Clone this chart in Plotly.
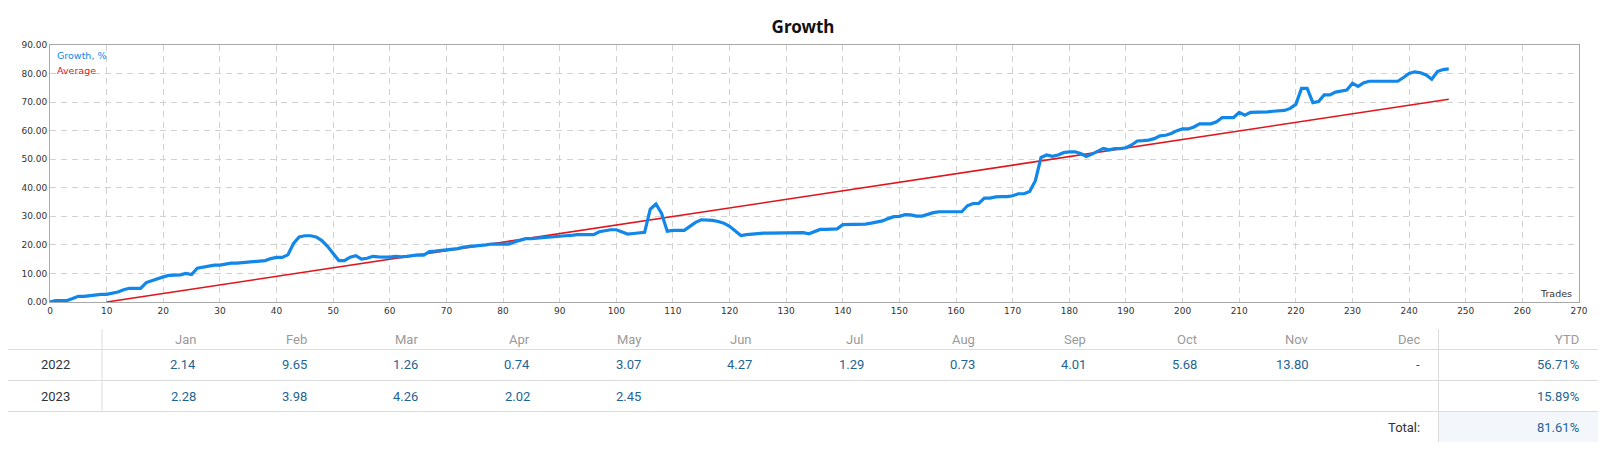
import plotly.graph_objects as go

# --- data ---
growth = [
    0.0, 0.5, 0.5, 0.5, 1.2, 2.0, 2.0, 2.3, 2.4, 2.7,
    2.7, 3.0, 3.5, 4.3, 4.8, 4.8, 4.8, 6.8, 7.5, 8.3,
    8.8, 9.3, 9.3, 9.5, 10.0, 9.6, 11.8, 12.2, 12.5, 12.9,
    12.9, 13.2, 13.6, 13.6, 13.8, 14.0, 14.2, 14.2, 14.5, 15.2,
    15.6, 15.6, 16.5, 20.5, 22.8, 23.2, 23.2, 22.8, 21.5, 19.5,
    17.2, 14.5, 14.5, 15.7, 16.2, 15.0, 15.3, 16.0, 15.8, 15.7,
    15.7, 16.0, 15.8, 16.0, 16.2, 16.5, 16.4, 17.7, 17.8, 18.0,
    18.3, 18.3, 18.7, 19.2, 19.4, 19.4, 19.7, 20.0, 20.3, 20.3,
    20.3, 20.3, 21.0, 21.6, 22.2, 22.2, 22.4, 22.6, 22.8, 22.9,
    23.0, 23.2, 23.3, 23.6, 23.6, 23.6, 23.6, 24.6, 25.0, 25.3,
    25.3, 24.5, 23.8, 24.0, 24.1, 24.4, 32.5, 34.3, 31.0, 24.8,
    25.1, 25.1, 25.1, 26.5, 27.9, 28.8, 28.8, 28.6, 28.2, 27.6,
    26.5, 24.9, 23.3, 23.6, 23.8, 23.8, 24.1, 24.1, 24.1, 24.1,
    24.1, 24.1, 24.1, 24.3, 23.9, 24.6, 25.4, 25.4, 25.6, 25.6,
    27.1, 27.1, 27.3, 27.3, 27.3, 27.6, 27.9, 28.4, 29.2, 29.9,
    30.0, 30.6, 30.5, 30.1, 30.1, 30.8, 31.3, 31.6, 31.6, 31.6,
    31.6, 31.6, 33.7, 34.5, 34.5, 36.4, 36.4, 36.8, 36.9, 36.9,
    37.2, 37.9, 37.9, 38.7, 42.5, 50.6, 51.5, 51.0, 51.5, 52.3,
    52.6, 52.6, 52.0, 51.0, 51.8, 52.8, 53.8, 53.3, 53.7, 53.7,
    54.0, 55.0, 56.4, 56.5, 56.7, 57.2, 58.2, 58.4, 59.0, 60.0,
    60.6, 60.6, 61.3, 62.4, 62.4, 62.4, 63.1, 64.6, 64.6, 64.6,
    66.4, 65.4, 66.4, 66.4, 66.4, 66.6, 66.8, 67.0, 67.1, 67.8,
    69.2, 74.8, 74.8, 69.8, 70.2, 72.5, 72.5, 73.5, 73.8, 74.2,
    76.6, 75.5, 76.8, 77.3, 77.3, 77.3, 77.3, 77.3, 77.3, 78.6,
    80.0, 80.6, 80.3, 79.5, 78.0, 80.7, 81.4, 81.61,
]
trades = list(range(len(growth)))

avg_x = [10, 247]
avg_y = [0.0, 71.0]

months = ["Jan", "Feb", "Mar", "Apr", "May", "Jun",
          "Jul", "Aug", "Sep", "Oct", "Nov", "Dec"]
years = ["2022", "2023"]
monthly = {
    "2022": ["2.14", "9.65", "1.26", "0.74", "3.07", "4.27",
             "1.29", "0.73", "4.01", "5.68", "13.80", "-"],
    "2023": ["2.28", "3.98", "4.26", "2.02", "2.45", "",
             "", "", "", "", "", ""],
}
ytd = {"2022": "56.71%", "2023": "15.89%"}
total = "81.61%"

# --- layout geometry ---
# the page body adds an 8px margin, so the figure is drawn 8px smaller and
# every page-pixel position below is shifted back by OFF
OFF = 8
W, H = 1608 - OFF, 462 - OFF
ML, MR, MT, MB = 50 - OFF, 29, 45 - OFF, 160
PW = W - ML - MR
PH = H - MT - MB
PLOT_BOTTOM = H - MB


def px(x):
    return (x - OFF - ML) / PW


def py(y):
    return (PLOT_BOTTOM - (y - OFF)) / PH


BLUE = "#1187ea"
RED = "#e0161d"
VAL = "#1f6593"
GRID = "#d2d2d2"
TABLE_FONT = "Roboto"

fig = go.Figure()

fig.add_trace(
    go.Scatter(
        x=avg_x, y=avg_y, mode="lines", name="Average",
        line=dict(color=RED, width=1.6),
    )
)
fig.add_trace(
    go.Scatter(
        x=trades, y=growth, mode="lines", name="Growth, %",
        line=dict(color=BLUE, width=3.2),
    )
)

axis_common = dict(
    showgrid=True, gridcolor=GRID, griddash="6px,5px", gridwidth=1,
    showline=True, linecolor="#a8a8a8", linewidth=1, mirror=True,
    zeroline=False, ticks="", automargin=False,
    tickfont=dict(family="DejaVu Sans", size=9, color="#333"),
)

fig.update_layout(
    width=W, height=H,
    margin=dict(l=ML, r=MR, t=MT, b=MB),
    paper_bgcolor="white", plot_bgcolor="white",
    showlegend=False,
    title=dict(
        text="<b>Growth</b>", x=(803 - OFF) / W, xanchor="center",
        y=1 - (26.7 - OFF) / H, yanchor="middle", automargin=False,
        font=dict(family="Noto Sans", size=17, color="#111"),
    ),
    xaxis=dict(range=[0, 270], dtick=10, tick0=0, **axis_common),
    yaxis=dict(range=[0, 90], dtick=10, tickformat=".2f", **axis_common),
)

annotations = []


def label(x, y, text, color, size=13, anchor="right", family=TABLE_FONT):
    annotations.append(dict(
        x=px(x), y=py(y), xref="paper", yref="paper", text=text,
        showarrow=False, xanchor=anchor, yanchor="middle",
        font=dict(family=family, size=size, color=color),
    ))


# in-plot legend and axis caption
label(55, 55.7, "Growth, %", BLUE, size=9.5, anchor="left", family="DejaVu Sans")
label(55, 70.7, "Average", RED, size=9.5, anchor="left", family="DejaVu Sans")
label(1574, 293.5, "Trades", "#333", size=9.5, anchor="right", family="DejaVu Sans")

# --- monthly table ---
HEAD_Y, ROW_Y, TOTAL_Y = 339, [364.5, 396], 427
COL_R0, COL_STEP = 197.7, 111.3
YTD_R = 1581

for i, m in enumerate(months):
    label(COL_R0 + i * COL_STEP, HEAD_Y, m, "#9a9a9a")
label(YTD_R, HEAD_Y, "YTD", "#9a9a9a")

for r, yr in enumerate(years):
    label(55.5, ROW_Y[r], yr, "#333", anchor="center")
    for i, v in enumerate(monthly[yr]):
        if v:
            label(COL_R0 + i * COL_STEP, ROW_Y[r], v, VAL)
    label(YTD_R, ROW_Y[r], ytd[yr], VAL)

label(1422, TOTAL_Y, "Total:", "#333")
label(YTD_R, TOTAL_Y, total, VAL)

shapes = [
    dict(type="rect", xref="paper", yref="paper",
         x0=px(1439), x1=px(1598), y0=py(411.5), y1=py(442),
         fillcolor="#f3f6fb", line=dict(width=0), layer="below"),
]
for yl in [349.5, 380.5, 411.5]:
    shapes.append(dict(type="line", xref="paper", yref="paper",
                       x0=px(8), x1=px(1598), y0=py(yl), y1=py(yl),
                       line=dict(color="#dcdcdc", width=1.2)))
shapes.append(dict(type="line", xref="paper", yref="paper",
                   x0=px(102), x1=px(102), y0=py(329), y1=py(411.5),
                   line=dict(color="#dcdcdc", width=1)))
shapes.append(dict(type="line", xref="paper", yref="paper",
                   x0=px(1438.5), x1=px(1438.5), y0=py(329), y1=py(442),
                   line=dict(color="#dcdcdc", width=1)))

fig.update_layout(annotations=annotations, shapes=shapes)

fig.write_html("out.html")
